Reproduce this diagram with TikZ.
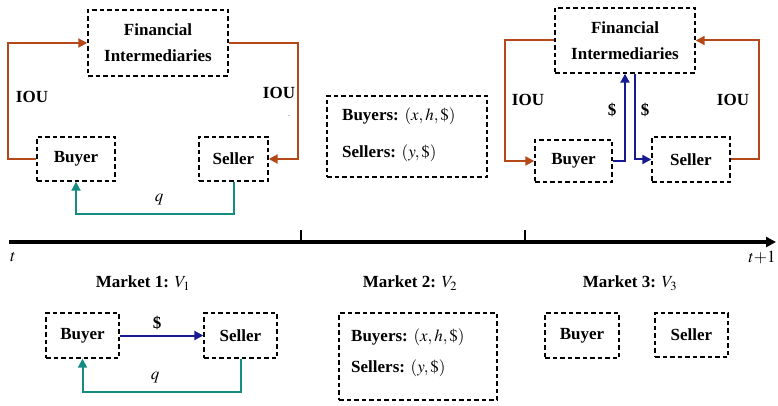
\documentclass[tikz,border=0pt]{standalone}
\usepackage{mathptmx}
\usepackage{fontspec}
\setmainfont{Liberation Serif}
\usetikzlibrary{arrows.meta}
\definecolor{iouc}{RGB}{180,72,24}
\definecolor{bluec}{RGB}{25,25,145}
\definecolor{tealc}{RGB}{20,140,130}
\begin{document}
\begin{tikzpicture}[x=1pt,y=-1pt,
  every node/.style={font=\fontsize{17}{20}\selectfont\bfseries, inner sep=0pt},
  dbox/.style={draw, line width=1.4pt, dash pattern=on 4.5pt off 3pt},
  iou/.style={draw=iouc, line width=2pt, -{Triangle[length=9pt,width=9pt]}},
  money/.style={draw=bluec, line width=2pt, -{Triangle[length=9pt,width=9pt]}},
  goods/.style={draw=tealc, line width=2pt, -{Triangle[length=9pt,width=9pt]}}]
\useasboundingbox (0,0) rectangle (778,406);
% ---------- top left ----------
\node[dbox, minimum width=140pt, minimum height=66pt, align=center] (fi1) at (158,43) {Financial\\[6pt]Intermediaries};
\node[dbox, minimum width=78pt, minimum height=44pt] (b1) at (76,159) {Buyer};
\node[dbox, minimum width=69pt, minimum height=44pt] (s1) at (233.5,159) {Seller};
\draw[iou] (b1.west) -- ++(-28,0) |- (fi1.west);
\draw[iou] (fi1.east) -- ++(69,0) |- (s1.east);
\draw[goods] (s1.south) -- ++(0,32) -| (b1.south);
\node (q1) at (159,200) {$q$};
\node (iou1) at (32,97) {IOU};
\node (iou2) at (279,93) {IOU};
\node[font=\fontsize{10}{12}\selectfont, text=gray] (dot1) at (289,116) {.};
% ---------- top middle ----------
\node[dbox, minimum width=160pt, minimum height=81pt] (mid1) at (407,136.5) {};
\node[anchor=west] (mb1) at (342,116) {Buyers: $(x,h,\$)$};
\node[anchor=west] (ms1) at (342,153) {Sellers: $(y,\$)$};
% ---------- top right ----------
\node[dbox, minimum width=140pt, minimum height=65pt, align=center] (fi2) at (625,40.5) {Financial\\[6pt]Intermediaries};
\node[dbox, minimum width=77pt, minimum height=42pt] (b2) at (573.5,161) {Buyer};
\node[dbox, minimum width=78pt, minimum height=45pt] (s2) at (691,159.5) {Seller};
\draw[iou] (fi2.west) -- ++(-49,0) |- (b2.west);
\draw[iou] (s2.east) -- ++(28,0) |- (fi2.east);
\draw[money] (b2.east) -| (fi2.south);
\draw[money] ([xshift=10pt]fi2.south) |- (s2.west);
\node (d1) at (612,110) {\$};
\node (d2) at (645,110) {\$};
\node (iou3) at (528,100) {IOU};
\node (iou4) at (733,100) {IOU};
% ---------- timeline ----------
\coordinate (t0) at (9,242);
\coordinate (t1) at (776,242);
\coordinate (k1) at (301,242);
\coordinate (k1t) at (301,230);
\coordinate (k2) at (525,242);
\coordinate (k2t) at (525,230);
\draw[line width=3.2pt, -{Triangle[length=10pt,width=10pt]}] (t0) -- (t1);
\draw[line width=1.6pt] (k1) -- (k1t);
\draw[line width=1.6pt] (k2) -- (k2t);
\node (tl) at (13,257) {$t$};
\node (tr) at (762,258) {$t{+}1$};
% ---------- bottom ----------
\node (m1) at (143,283) {Market 1: $V_1$};
\node (m2) at (410,283) {Market 2: $V_2$};
\node (m3) at (630,283) {Market 3: $V_3$};
\node[dbox, minimum width=73pt, minimum height=45pt] (b3) at (82.5,335.5) {Buyer};
\node[dbox, minimum width=73pt, minimum height=45pt] (s3) at (240.5,335.5) {Seller};
\draw[money] (b3.east) -- (s3.west);
\node (d3) at (157,323) {\$};
\draw[goods] (s3.south) -- ++(0,33) -| (b3.south);
\node (q2) at (155,378) {$q$};
\node[dbox, minimum width=158pt, minimum height=87pt] (mid2) at (418,356.5) {};
\node[anchor=west] (mb2) at (351,337) {Buyers: $(x,h,\$)$};
\node[anchor=west] (ms2) at (351,368) {Sellers: $(y,\$)$};
\node[dbox, minimum width=74pt, minimum height=45pt] (b4) at (582,335.5) {Buyer};
\node[dbox, minimum width=73pt, minimum height=44pt] (s4) at (691.5,335) {Seller};
\end{tikzpicture}
\end{document}
